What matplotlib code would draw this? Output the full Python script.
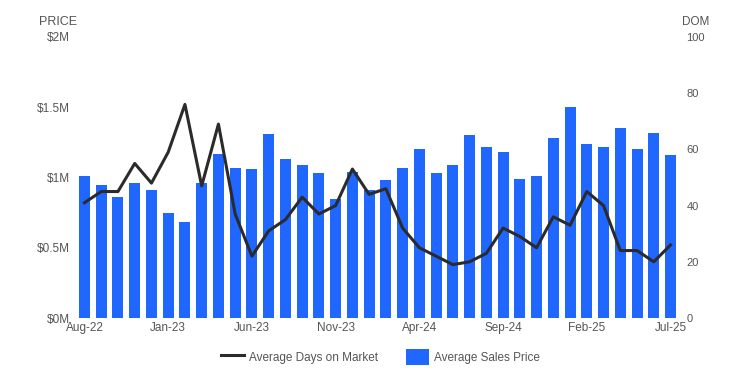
import matplotlib.pyplot as plt
import numpy as np

plt.rcParams['font.family'] = ['Liberation Sans', 'DejaVu Sans']

months = ['Aug-22', 'Sep-22', 'Oct-22', 'Nov-22', 'Dec-22', 'Jan-23', 'Feb-23', 'Mar-23',
          'Apr-23', 'May-23', 'Jun-23', 'Jul-23', 'Aug-23', 'Sep-23', 'Oct-23', 'Nov-23',
          'Dec-23', 'Jan-24', 'Feb-24', 'Mar-24', 'Apr-24', 'May-24', 'Jun-24', 'Jul-24',
          'Aug-24', 'Sep-24', 'Oct-24', 'Nov-24', 'Dec-24', 'Jan-25', 'Feb-25', 'Mar-25',
          'Apr-25', 'May-25', 'Jun-25', 'Jul-25']

# average sales price, $M
price = [1.01, 0.95, 0.86, 0.96, 0.91, 0.75, 0.68, 0.96, 1.17, 1.07, 1.06, 1.31,
         1.13, 1.09, 1.03, 0.85, 1.04, 0.91, 0.98, 1.07, 1.20, 1.03, 1.09, 1.30,
         1.22, 1.18, 0.99, 1.01, 1.28, 1.50, 1.24, 1.22, 1.35, 1.20, 1.32, 1.16]

# average days on market
dom = [41, 45, 45, 55, 48, 59, 76, 47, 69, 37, 22, 31,
       35, 43, 37, 40, 53, 44, 46, 32, 25, 22, 19, 20,
       23, 32, 29, 25, 36, 33, 45, 40, 24, 24, 20, 26]

blue = '#1f67ff'
grey = '#555555'
x = np.arange(len(months))

fig = plt.figure(figsize=(7.41, 3.85), dpi=100)
ax = fig.add_axes([0.1027, 0.174, 0.8135, 0.73])
ax2 = ax.twinx()

bars = ax.bar(x, price, width=0.66, color=blue, label='Average Sales Price', zorder=2)
line, = ax2.plot(x, dom, color='#2b2b2b', lw=2.2, label='Average Days on Market', zorder=3)

ax.set_xlim(-0.5, len(months) - 0.5)
ax.set_ylim(0, 2)
ax2.set_ylim(0, 100)

ax.set_yticks([0, 0.5, 1, 1.5, 2])
ax.set_yticklabels(['$0M', '$0.5M', '$1M', '$1.5M', '$2M'])
ax2.set_yticks([0, 20, 40, 60, 80, 100])

ax.set_xticks(x[::5])
ax.set_xticklabels(months[::5])

for a in (ax, ax2):
    for s in a.spines.values():
        s.set_visible(False)
    a.tick_params(length=0, labelsize=8.5, colors=grey)
ax.tick_params(axis='x', pad=3)
ax.tick_params(axis='y', pad=4.5)
ax2.tick_params(axis='y', pad=5.5)
ax2.tick_params(axis='y', labelsize=8)

fig.text(0.052, 0.943, 'PRICE', fontsize=9, color=grey, ha='left', va='center')
fig.text(0.920, 0.943, 'DOM', fontsize=8.5, color=grey, ha='left', va='center')

ax2.set_zorder(ax.get_zorder() + 1)
ax2.patch.set_visible(False)

fig.legend([line, bars], ['Average Days on Market', 'Average Sales Price'],
           loc='center', bbox_to_anchor=(0.513, 0.072), ncol=2, frameon=False,
           fontsize=8.5, labelcolor=grey, handlelength=2.0, handleheight=1.7,
           columnspacing=2.4, handletextpad=0.35)

fig.savefig('out.png', dpi=100)
